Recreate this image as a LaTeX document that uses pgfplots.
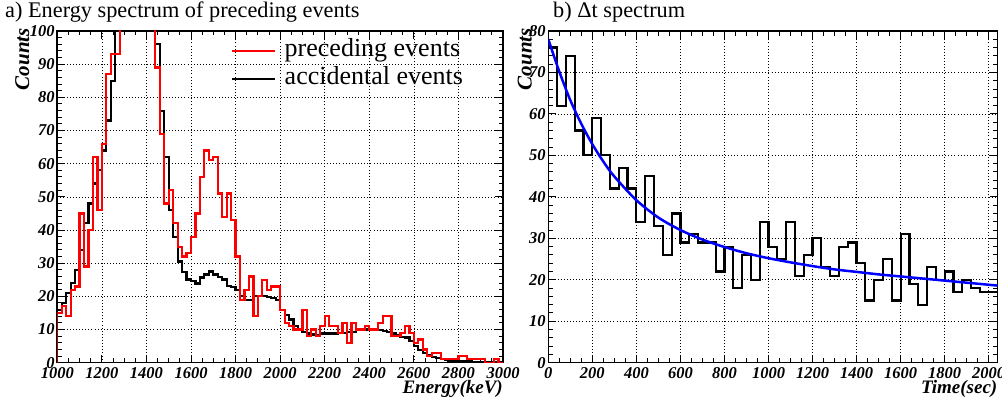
\documentclass[border=0pt]{standalone}
\usepackage{fontspec}
\setmainfont{Liberation Serif}
\usepackage{pgfplots}
\pgfplotsset{compat=1.18}

\pgfplotsset{
  rootstyle/.style={
    scale only axis,
    anchor=south west,
    height=331.7pt,
    axis line style={line width=1.6pt},
    tick style={black, line width=1pt},
    major tick length=8pt,
    minor tick length=4.5pt,
    tick align=inside,
    xtick pos=both, ytick pos=both,
    grid=major,
    major grid style={black, line width=0.6pt, dash pattern=on 0.9pt off 2.2pt},
    minor x tick num=3,
    minor y tick num=4,
    /pgf/number format/assume math mode=true,
    /pgf/number format/1000 sep={},
    tick label style={font=\fontsize{16.5}{16.5}\selectfont\bfseries\itshape, inner sep=0pt},
    xticklabel style={yshift=-5pt},
    yticklabel style={xshift=-2.5pt},
    xlabel style={font=\fontsize{19}{19}\selectfont\bfseries\itshape, inner sep=0pt,
      at={([yshift=-17pt]rel axis cs:1,0)}, anchor=north east},
    title style={font=\fontsize{22.3}{22.3}\selectfont, inner sep=0pt, anchor=base west},
  }
}

\begin{document}
\begin{tikzpicture}
\useasboundingbox (0,0) rectangle (1002pt,399pt);

% ---------------- left panel ----------------
\begin{axis}[rootstyle,
  at={(57.3pt,36.3pt)}, width=445.7pt,
  xmin=1000, xmax=3000, ymin=0, ymax=100,
  xtick={1000,1200,...,3000}, ytick={0,10,...,100},
  xlabel={Energy(keV)},
  ylabel={Counts},
  ylabel style={font=\fontsize{21}{21}\selectfont\bfseries\itshape, inner sep=0pt,
     at={([xshift=-35pt,yshift=3pt]rel axis cs:0,1)}, anchor=east},
  title={a) Energy spectrum of preceding events},
  title style={at={([xshift=-52.3pt,yshift=7.7pt]rel axis cs:0,1)}},
  legend style={at={(rel axis cs:0.381,0.981)}, anchor=north west, draw=none, fill=none,
     font=\fontsize{26}{26}\selectfont, row sep=5pt, column sep=9pt,
     nodes={inner sep=0pt, text height=17pt, text depth=6pt}},
  legend cell align=left,
  legend image code/.code={\draw[#1] (0pt,0pt) -- (43pt,0pt);},
]
\addplot[const plot, black, line width=2.2pt, forget plot] coordinates {
(1000,0)(1000,16)(1020,18)(1040,21)(1060,24)(1080,28)(1100,34)(1120,42)(1140,48)(1160,54)(1180,58)
(1200,64)(1220,73)(1240,85)(1260,110)(1280,125)(1300,135)(1320,140)(1340,145)(1360,140)(1380,130)
(1400,120)(1420,110)(1440,96)(1460,76)(1480,62)(1500,46)(1520,38)(1540,30.5)(1560,27.4)(1580,25.1)
(1600,24.7)(1620,23.9)(1640,25.7)(1660,26.6)(1680,27.5)(1700,26.6)(1720,25.9)(1740,25.1)(1760,23.1)(1780,22.9)
(1800,21.9)(1820,20)(1840,19)(1860,19)(1880,20)(1900,20)(1920,20)(1940,19.7)(1960,19.4)(1980,19)
(2000,16)(2020,14.4)(2040,13)(2060,11)(2080,10)(2100,9.3)(2120,8.8)(2140,8.5)(2160,8.3)(2180,8.8)
(2200,8.8)(2220,8.8)(2240,8.8)(2260,9)(2280,9)(2300,9.3)(2320,9.3)(2340,10)(2360,10)(2380,10)
(2400,9.8)(2420,9.8)(2440,9.8)(2460,9.5)(2480,9.3)(2500,8.8)(2520,8.3)(2540,7.8)(2560,7.6)(2580,6.6)
(2600,5)(2620,3.8)(2640,3)(2660,2.3)(2680,1.6)(2700,1.3)(2720,1)(2740,0.8)(2760,0.6)(2780,0.5)
(2800,0.5)(2820,0.4)(2840,0.4)(2860,0.3)(2880,0.3)(2900,0.3)(2920,0.2)(2940,0.2)(2960,0.2)(2980,0.1)
(3000,0.1)
};
\addplot[const plot, red, line width=2.2pt, forget plot] coordinates {
(1000,0)(1000,15)(1020,17)(1040,14)(1060,22)(1080,23)(1100,45)(1120,29)(1140,40)(1160,62)(1180,46)
(1200,66)(1220,87)(1240,93)(1260,93)(1280,120)(1300,130)(1320,125)(1340,140)(1360,135)(1380,120)
(1400,115)(1420,105)(1440,89)(1460,69)(1480,48)(1500,52)(1520,42)(1540,35)(1560,32)(1580,33)
(1600,38)(1620,45)(1640,56)(1660,64)(1680,61)(1700,62)(1720,51)(1740,44)(1760,51)(1780,43)
(1800,32)(1820,19)(1840,22)(1860,26)(1880,14)(1900,20)(1920,25)(1940,22)(1960,23)(1980,23)
(2000,16)(2020,12)(2040,11)(2060,10)(2080,10)(2100,16)(2120,8)(2140,10)(2160,8)(2180,11)
(2200,14)(2220,11)(2240,11)(2260,9)(2280,12)(2300,6)(2320,12)(2340,10)(2360,10)(2380,11)
(2400,10)(2420,10)(2440,12)(2460,14)(2480,14)(2500,8)(2520,8)(2540,9)(2560,11)(2580,9)
(2600,6)(2620,7)(2640,4)(2660,2)(2680,3)(2700,3)(2720,1)(2740,1)(2760,1)(2780,1)
(2800,2)(2820,2)(2840,1)(2860,1)(2880,1)(2900,1)(2920,0)(2940,0)(2960,1)(2980,0)
(3000,0)
};
\addlegendimage{red, line width=2.4pt}
\addlegendentry{preceding events}
\addlegendimage{black, line width=2.4pt}
\addlegendentry{accidental events}
\end{axis}

% ---------------- right panel ----------------
\begin{axis}[rootstyle,
  at={(548.3pt,36.3pt)}, width=449.2pt,
  xmin=0, xmax=2040, ymin=0, ymax=80,
  xtick={0,200,...,2000}, ytick={0,10,...,80},
  xlabel={Time(sec)},
  ylabel={Counts},
  ylabel style={font=\fontsize{21}{21}\selectfont\bfseries\itshape, inner sep=0pt,
     at={([xshift=-23.5pt,yshift=3pt]rel axis cs:0,1)}, anchor=east},
  title={b) Δt spectrum},
  title style={at={([xshift=4.7pt,yshift=7.7pt]rel axis cs:0,1)}},
]
\addplot[const plot, black, line width=2.2pt] coordinates {
(0,0)(0,76)(40,62)(80,74)(120,56)(160,50)(200,59)(240,50)(280,42)(320,47)(360,42)
(400,34)(440,45)(480,33)(520,26)(560,36)(600,29)(640,31)(680,29)(720,29)(760,22)
(800,28)(840,18)(880,26)(920,20)(960,34)(1000,28)(1040,25)(1080,34)(1120,21)(1160,26)
(1200,30)(1240,23)(1280,21)(1320,28)(1360,29)(1400,24)(1440,15)(1480,20)(1520,25)(1560,15)
(1600,31)(1640,19)(1680,14)(1720,23)(1760,20)(1800,22)(1840,17)(1880,20)(1920,18)(1960,17)
(2000,17)(2040,17)
};
\addplot[blue, line width=2.5pt, smooth] coordinates {
(0,78)(50,70.2)(100,63.3)(150,57.6)(200,52.7)(250,48.5)(300,44.9)(400,39.2)(500,35.0)
(600,32.0)(700,29.7)(800,27.9)(900,26.4)(1000,25.2)(1100,24.2)(1200,23.3)(1300,22.5)
(1400,21.9)(1500,21.3)(1600,20.8)(1700,20.3)(1800,19.8)(1900,19.3)(2000,18.8)(2040,18.6)
};
\end{axis}
\end{tikzpicture}
\end{document}
